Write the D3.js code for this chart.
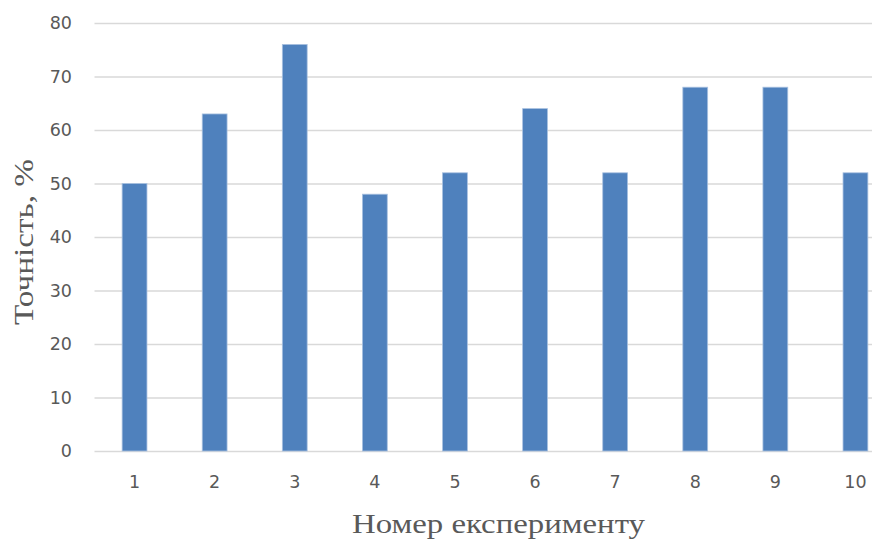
<!DOCTYPE html>
<html>
<head>
<meta charset="utf-8">
<script src="https://cdn.jsdelivr.net/npm/d3@7"></script>
<style>
  html, body { margin: 0; padding: 0; background: #fff; }
  svg { display: block; }
</style>
</head>
<body>
<svg id="chart" width="872" height="540"></svg>
<script>
const categories = ["1", "2", "3", "4", "5", "6", "7", "8", "9", "10"];
const accuracy = [50, 63, 76, 48, 52, 64, 52, 68, 68, 52];
const yTicks = [0, 10, 20, 30, 40, 50, 60, 70, 80];
const yTitle = "Точність, %";
const xTitle = "Номер експерименту";

const svg = d3.select("#chart");
const W = 872, H = 540;
const plotLeft = 94.5, plotRight = 895.5, plotTop = 23, plotBottom = 451;

const x = d3.scaleBand().domain(categories).range([plotLeft, plotRight]).paddingInner(0.69).paddingOuter(0.345);
const y = d3.scaleLinear().domain([0, 80]).range([plotBottom, plotTop]);

// gridlines
svg.append("g").selectAll("line").data(yTicks).join("line")
  .attr("x1", plotLeft).attr("x2", W)
  .attr("y1", d => y(d) + 0.5).attr("y2", d => y(d) + 0.5)
  .attr("stroke", "#d9d9d9").attr("stroke-width", 1.3);

// bars
svg.append("g").selectAll("rect").data(accuracy).join("rect")
  .attr("x", (d, i) => x(categories[i]))
  .attr("y", d => y(d))
  .attr("width", x.bandwidth())
  .attr("height", d => y(0) - y(d))
  .attr("fill", "#4f81bd")
  .attr("stroke", "#a9c1e0").attr("stroke-width", 0.8);

// y axis labels
const yAxis = d3.axisLeft(y).tickValues(yTicks).tickSize(0).tickPadding(0);
const gy = svg.append("g").attr("transform", "translate(72,0)").call(yAxis);
gy.select(".domain").remove();
gy.selectAll("text").attr("font-family", "DejaVu Sans").attr("font-size", 17.5).attr("fill", "#595959");

// x axis labels
const xAxis = d3.axisBottom(x).tickSize(0).tickPadding(0);
const gx = svg.append("g").attr("transform", "translate(0,476)").call(xAxis);
gx.select(".domain").remove();
gx.selectAll("text").attr("font-family", "DejaVu Sans").attr("font-size", 17.5).attr("fill", "#595959");

// titles
svg.append("text").attr("x", 498.5).attr("y", 533).attr("text-anchor", "middle")
  .attr("font-family", "Liberation Serif").attr("font-size", 28).attr("fill", "#595959")
  .attr("textLength", 293).attr("lengthAdjust", "spacingAndGlyphs").text(xTitle);
svg.append("text").attr("transform", "translate(33,242) rotate(-90)").attr("text-anchor", "middle")
  .attr("font-family", "Liberation Serif").attr("font-size", 28).attr("fill", "#595959")
  .attr("textLength", 166).attr("lengthAdjust", "spacingAndGlyphs").text(yTitle);
</script>
</body>
</html>
